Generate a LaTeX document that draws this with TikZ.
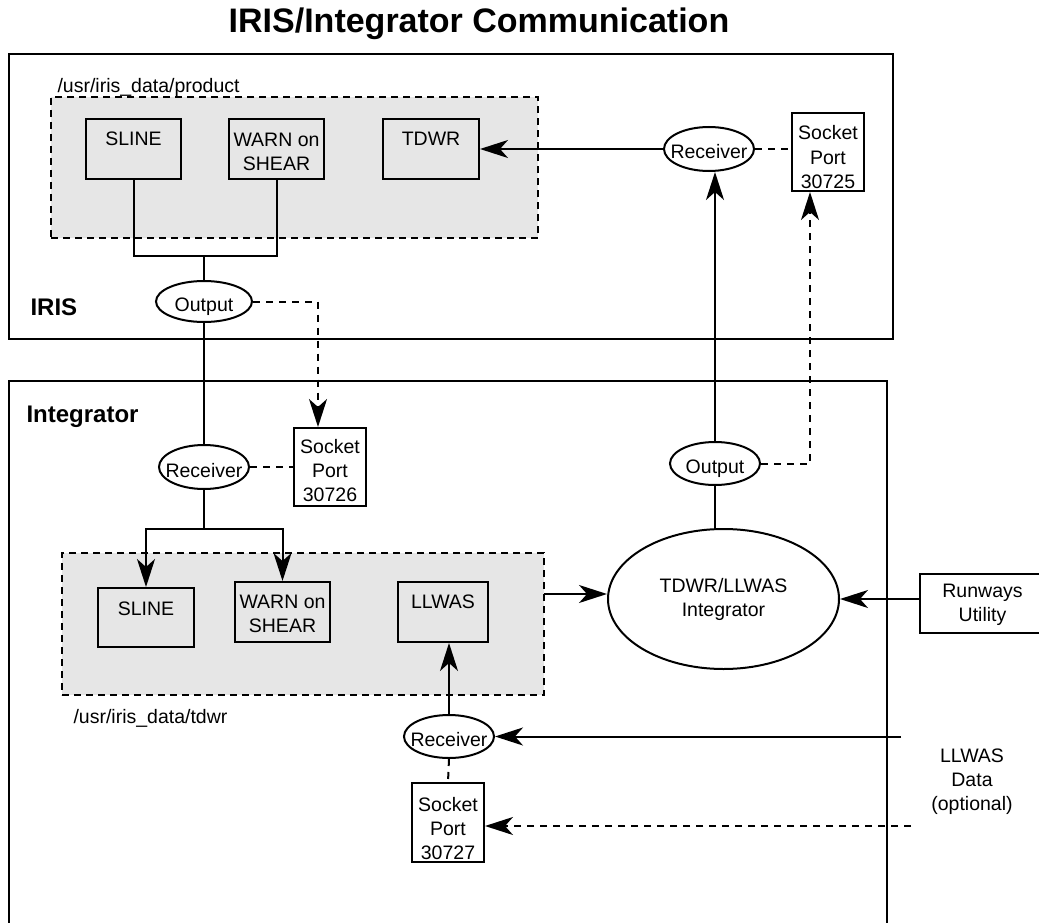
\documentclass[tikz,border=0pt]{standalone}
\usepackage{fontspec}
\setmainfont{Liberation Sans}
\usetikzlibrary{shapes.geometric,arrows.meta}
\definecolor{regiongray}{HTML}{E6E6E6}
\tikzset{
  txt/.style={font=\fontsize{19.5}{24}\selectfont},
  conn/.style={line width=2pt},
  dconn/.style={conn, dash pattern=on 7pt off 6pt},
  arr/.style={conn, -{Stealth[length=28pt,width=18pt,inset=8pt]}},
  container/.style={draw, line width=2pt, inner sep=0pt},
  region/.style={draw, line width=2pt, dash pattern=on 7pt off 5pt, fill=regiongray, inner sep=0pt},
  rbox/.style={draw, line width=2pt, txt, align=center, inner sep=0pt},
  ell/.style={draw, ellipse, line width=2pt, fill=white, txt, inner sep=0pt, text height=20pt, text depth=0pt},
  boldlabel/.style={font=\bfseries\fontsize{24}{28}\selectfont, anchor=base west},
  pathlabel/.style={txt, anchor=base west},
}
\begin{document}
\begin{tikzpicture}[x=1pt,y=-1pt]
\useasboundingbox (0,0) rectangle (1039,923);

% title
\node[font=\bfseries\fontsize{34}{40}\selectfont, anchor=base] (title) at (479,33) {IRIS/Integrator Communication};

% containers
\node[container, minimum width=884pt, minimum height=285pt] (iris) at (451,196.5) {};
\node[container, minimum width=878pt, minimum height=640pt] (integ) at (448,701) {};
\node[boldlabel] (irislabel) at (27,315) {IRIS};
\node[boldlabel] (integlabel) at (23,422) {Integrator};

% regions
\node[region, minimum width=487pt, minimum height=141pt] (reg1) at (294.5,167.5) {};
\node[region, minimum width=482pt, minimum height=142pt] (reg2) at (303,624) {};
\node[pathlabel] (reg1label) at (54,93) {/usr/iris\_data/product};
\node[pathlabel] (reg2label) at (70,723) {/usr/iris\_data/tdwr};

% boxes (text height/depth measured from the last line's baseline)
\node[rbox, minimum width=95pt, text height=27pt, text depth=33pt] (sline1) at (133.5,149) {SLINE};
\node[rbox, minimum width=95pt, text height=52pt, text depth=8pt] (warn1) at (276.5,149) {WARN on\\SHEAR};
\node[rbox, minimum width=96pt, text height=27pt, text depth=33pt] (tdwr1) at (431,149) {TDWR};
\node[rbox, minimum width=72pt, text height=75pt, text depth=3pt, fill=white] (sock25) at (828,152) {Socket\\Port\\30725};
\node[rbox, minimum width=72pt, text height=73pt, text depth=5pt, fill=white] (sock26) at (330,467) {Socket\\Port\\30726};
\node[rbox, minimum width=96pt, text height=27pt, text depth=32pt] (sline2) at (146,617.5) {SLINE};
\node[rbox, minimum width=95pt, text height=50pt, text depth=10pt] (warn2) at (282.5,612) {WARN on\\SHEAR};
\node[rbox, minimum width=90pt, text height=26pt, text depth=34pt] (llwas) at (443,612) {LLWAS};
\node[rbox, minimum width=72pt, text height=76pt, text depth=3pt, fill=white] (sock27) at (448,822.5) {Socket\\Port\\30727};
\node[rbox, minimum width=125pt, text height=47pt, text depth=12pt, fill=white] (run) at (982.5,603.5) {Runways\\Utility};

% ellipses
\node[ell, minimum width=90pt, minimum height=44pt] (rec1) at (709,149) {\makebox[0pt]{Receiver}};
\node[ell, minimum width=96pt, minimum height=41pt] (out1) at (204,301.5) {\makebox[0pt]{Output}};
\node[ell, minimum width=90pt, minimum height=44pt] (rec2) at (204,467) {\makebox[0pt]{Receiver}};
\node[ell, minimum width=90pt, minimum height=43pt] (out2) at (715,463.5) {\makebox[0pt]{Output}};
\node[ell, minimum width=231pt, minimum height=140pt, align=center, text height=44pt, text depth=10pt] (big) at (723.5,599) {TDWR/LLWAS\\Integrator};
\node[ell, minimum width=90pt, minimum height=43pt] (rec3) at (449,736.5) {\makebox[0pt]{Receiver}};

% free text
\node[txt, align=center, anchor=base] (llwasdata) at (972,810) {LLWAS\\Data\\(optional)};

% connectors
\coordinate (j1) at (204,256);
\draw[conn] (sline1.south) |- (j1) -| (warn1.south);
\draw[conn] (j1) -- (out1.north);
\draw[conn] (out1.south) -- (rec2.north);
\coordinate (c1) at (318,301.5);
\draw[dconn, arr] (out1.east) -- (c1) -- (c1 |- sock26.north);
\draw[dconn] (rec2.east) -- (rec2.east -| sock26.west);
\coordinate (j2) at (204,529);
\draw[arr] (rec2.south) -- (j2) -| (sline2.north);
\draw[arr] (j2) -| (warn2.north);
\coordinate (c2) at (544,594);
\draw[arr] (c2) -- (c2 -| big.west);
\draw[conn] (out2.south) -- (out2.south |- big.north);
\draw[arr] (out2.north) -- (out2.north |- rec1.south);
\draw[arr] (rec1.west) -- (tdwr1.east);
\draw[dconn] (rec1.east) -- (rec1.east -| sock25.west);
\coordinate (c3) at (810,463.5);
\draw[dconn, arr] (out2.east) -- (c3) -- (c3 |- sock25.south);
\draw[arr] (run.west |- big.east) -- (big.east);
\coordinate (c4) at (901,736.5);
\draw[arr] (c4) -- (rec3.east);
\draw[arr] (rec3.north) -- (rec3.north |- llwas.south);
\draw[dconn] (rec3.south) -- (sock27.north);
\coordinate (c5) at (911,826);
\draw[dconn, arr] (c5) -- (c5 -| sock27.east);
\end{tikzpicture}
\end{document}
